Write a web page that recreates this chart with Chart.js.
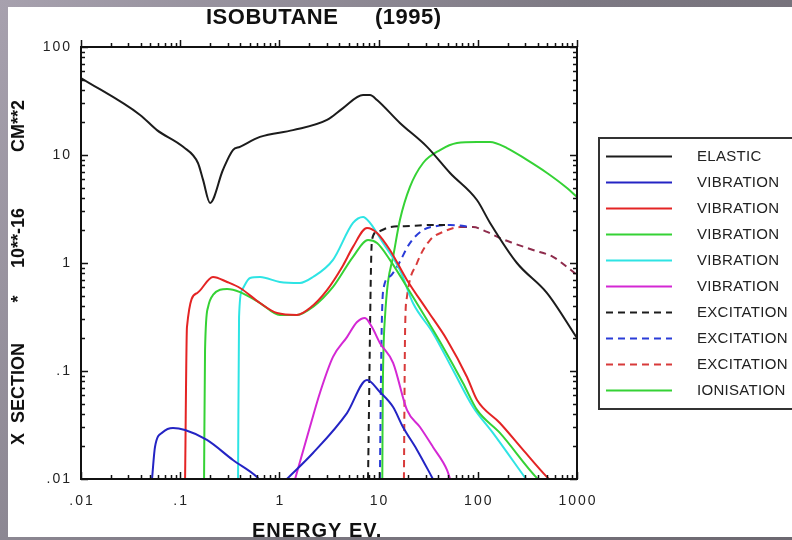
<!DOCTYPE html>
<html>
<head>
<meta charset="utf-8">
<title>Isobutane cross sections</title>
<script src="https://cdn.jsdelivr.net/npm/chart.js@4.4.1/dist/chart.umd.min.js"></script>
<style>
  html, body { margin: 0; padding: 0; background: #78747d; }
  canvas { display: block; }
</style>
</head>
<body>
<canvas id="isoChart" width="792" height="540"></canvas>
<script>
// axis decades and their printed labels
const xDecades = [0.01, 0.1, 1, 10, 100, 1000];
const xTickLabels = ['.01', '.1', '1', '10', '100', '1000'];
const yDecades = [0.01, 0.1, 1, 10, 100];
const yTickLabels = ['.01', '.1', '1', '10', '100'];

// energy (eV) / cross section (10**-16 cm**2) per process
const elasticE = [0.01, 0.0394, 0.0583, 0.107, 0.151, 0.170, 0.200, 0.270, 0.340, 0.400, 0.637, 1.37, 3.02, 4.38, 6.97, 8.19, 9.64, 16.4, 30.8, 52.5, 98, 133, 248, 499, 1000];
const elasticS = [51.6, 23.5, 17.0, 11.9, 8.43, 5.88, 3.6, 7.3, 11.1, 11.9, 14.7, 17.0, 21.1, 27.2, 35.9, 35.9, 32.3, 19.8, 11.9, 6.81, 3.83, 2.35, 1.0, 0.527, 0.202];

const vib1E = [0.052, 0.0557, 0.0671, 0.0846, 0.112, 0.186, 0.340, 0.594, 0.62, 0.9, 1.19, 2.18, 4.80, 7.64, 10.3, 14.0, 17.6, 24.4, 34.5, 35.3];
const vib1S = [0.01, 0.0198, 0.0272, 0.0297, 0.0284, 0.0230, 0.0150, 0.01045, 0.01, null, 0.01, 0.0174, 0.0408, 0.0826, 0.064, 0.0464, 0.0303, 0.0186, 0.0104, 0.01];

const vib2E = [0.112, 0.117, 0.148, 0.214, 0.297, 0.401, 0.638, 0.946, 1.50, 2.03, 3.02, 4.38, 5.52, 7.64, 9.64, 13.0, 19.3, 30.8, 49.0, 77.8, 98.2, 167, 286, 499, 522];
const vib2S = [0.01, 0.255, 0.527, 0.742, 0.667, 0.587, 0.426, 0.344, 0.330, 0.383, 0.562, 0.95, 1.41, 2.11, 1.90, 1.32, 0.697, 0.367, 0.194, 0.088, 0.0538, 0.033, 0.0186, 0.0104, 0.01];

const vib3E = [0.174, 0.178, 0.191, 0.214, 0.297, 0.401, 0.638, 1.01, 1.50, 2.18, 3.47, 5.52, 7.82, 9.64, 13.0, 19.3, 30.8, 44.6, 70.9, 98.2, 167, 395, 405];
const vib3S = [0.01, 0.156, 0.392, 0.506, 0.574, 0.538, 0.426, 0.330, 0.330, 0.392, 0.600, 1.14, 1.63, 1.53, 1.07, 0.60, 0.296, 0.167, 0.0774, 0.0436, 0.0267, 0.0102, 0.01];

const vib4E = [0.383, 0.392, 0.420, 0.506, 0.638, 1.01, 1.61, 2.18, 3.47, 5.52, 6.97, 8.19, 11.1, 16.4, 22.2, 35.3, 56.2, 89.5, 142, 306];
const vib4S = [0.01, 0.316, 0.562, 0.727, 0.742, 0.667, 0.653, 0.742, 1.07, 2.35, 2.67, 2.35, 1.53, 0.861, 0.426, 0.225, 0.102, 0.0464, 0.0267, 0.01];

const vib5E = [1.44, 1.61, 2.03, 2.56, 3.47, 4.80, 6.06, 7.29, 8.57, 10.3, 14.0, 19.3, 26.1, 35.3, 49.0, 52.5];
const vib5S = [0.01, 0.0144, 0.0303, 0.0626, 0.135, 0.206, 0.284, 0.310, 0.255, 0.182, 0.119, 0.0436, 0.0303, 0.0198, 0.0121, 0.01];

const exc1E = [7.82, 8.57, 9.64, 13.0, 20.7, 35.3, 46.7];
const exc1S = [0.01, 1.63, 1.94, 2.15, 2.20, 2.25, 2.25];

const exc2E = [10.3, 10.7, 11.1, 13.0, 15.3, 20.7, 28.1, 38.8, 52.5, 66.2, 80];
const exc2S = [0.01, 0.2, 0.55, 0.75, 0.918, 1.53, 2.02, 2.20, 2.25, 2.22, 2.17];

const exc3E = [18.0, 18.5, 19.3, 24.4, 33.0, 44.6, 66.2, 89.5, 124, 167, 226, 360, 573, 793, 1000];
const exc3S = [0.01, 0.24, 0.484, 1.0, 1.63, 1.94, 2.15, 2.15, 1.94, 1.70, 1.53, 1.32, 1.14, 0.918, 0.774];

const ionE = [10.9, 11.0, 11.2, 11.6, 12.4, 14.0, 16.4, 20.7, 28.1, 41.6, 61.7, 98.2, 133, 197, 313, 499, 793, 1000];
const ionS = [0.01, 0.0538, 0.156, 0.316, 0.653, 1.14, 2.50, 5.06, 8.43, 11.1, 12.9, 13.2, 13.2, 11.6, 9.0, 6.81, 4.94, 4.08];

const FONT = "'Liberation Sans', Arial, sans-serif";

function series(es, ss) {
    return es.map((e, i) => ({ x: e, y: ss[i] }));
}

function curve(label, color, es, ss, dash) {
    return {
        label: label,
        data: series(es, ss),
        borderColor: color,
        borderWidth: 2,
        borderDash: dash || [],
        pointRadius: 0,
        cubicInterpolationMode: 'monotone',
        fill: false,
        spanGaps: false
    };
}

const GREEN = '#35d235';
const datasets = [
    curve('ELASTIC', '#1c1c1c', elasticE, elasticS),
    curve('VIBRATION', '#2424c4', vib1E, vib1S),
    curve('VIBRATION', '#e42424', vib2E, vib2S),
    curve('VIBRATION', GREEN, vib3E, vib3S),
    curve('VIBRATION', '#2ee4e4', vib4E, vib4S),
    curve('VIBRATION', '#d428d4', vib5E, vib5S),
    curve('EXCITATION', '#1c1c1c', exc1E, exc1S, [7, 5]),
    curve('EXCITATION', '#2a3cd8', exc2E, exc2S, [7, 5]),
    curve('EXCITATION', '#d83a3a', exc3E, exc3S, [7, 5]),
    curve('IONISATION', GREEN, ionE, ionS)
];
// the red excitation tail runs on top of the blue one, so it prints darker
datasets[8].segment = {
    borderColor: ctx => ctx.p0.parsed.x >= 60 ? '#8e2c4c' : undefined
};

// frame, inward ticks, labels, titles and the boxed key
const framePlugin = {
    id: 'framePlugin',
    beforeDraw(chart) {
        const c = chart.ctx;
        c.save();
        const g = c.createLinearGradient(0, 0, 792, 540);
        g.addColorStop(0, '#a7a1ae');
        g.addColorStop(0.5, '#7d7983');
        g.addColorStop(1, '#6c6870');
        c.fillStyle = g;
        c.fillRect(0, 0, 792, 540);
        c.fillStyle = '#ffffff';
        c.fillRect(8, 7, 784, 530);
        c.restore();
    },
    afterDatasetsDraw(chart) {
        const c = chart.ctx;
        const a = chart.chartArea;
        const xs = chart.scales.x, ys = chart.scales.y;
        c.save();
        c.strokeStyle = '#111';
        c.lineWidth = 2;
        c.setLineDash([]);
        c.strokeRect(a.left, a.top, a.right - a.left, a.bottom - a.top);

        c.lineWidth = 1.5;
        c.beginPath();
        xDecades.forEach((d, i) => {
            for (let m = 1; m <= 9; m++) {
                if (m > 1 && i === xDecades.length - 1) break;
                const px = Math.round(xs.getPixelForValue(d * m)) + 0.5;
                const len = m === 1 ? 7 : 4;
                c.moveTo(px, a.bottom); c.lineTo(px, a.bottom - len);
                c.moveTo(px, a.top); c.lineTo(px, a.top - len);
            }
        });
        yDecades.forEach((d, i) => {
            for (let m = 1; m <= 9; m++) {
                if (m > 1 && i === yDecades.length - 1) break;
                const py = Math.round(ys.getPixelForValue(d * m)) + 0.5;
                const len = m === 1 ? 7 : 4;
                c.moveTo(a.left, py); c.lineTo(a.left + len, py);
                c.moveTo(a.right, py); c.lineTo(a.right - len, py);
            }
        });
        c.stroke();

        // tick labels
        c.fillStyle = '#222';
        c.font = '14px ' + FONT;
        c.letterSpacing = '2px';
        c.textBaseline = 'middle';
        c.textAlign = 'center';
        xDecades.forEach((d, i) => {
            c.fillText(xTickLabels[i], xs.getPixelForValue(d) + 1, a.bottom + 22);
        });
        c.textAlign = 'right';
        yDecades.forEach((d, i) => {
            c.fillText(yTickLabels[i], a.left - 9, ys.getPixelForValue(d));
        });

        // titles
        c.fillStyle = '#111';
        c.textAlign = 'left';
        c.textBaseline = 'alphabetic';
        c.font = 'bold 22px ' + FONT;
        c.letterSpacing = '0.5px';
        c.fillText('ISOBUTANE', 206, 24);
        c.fillText('(1995)', 375, 24);

        c.font = 'bold 20px ' + FONT;
        c.letterSpacing = '1px';
        c.fillText('ENERGY EV.', 252, 537);

        c.font = 'bold 18px ' + FONT;
        c.letterSpacing = '0px';
        c.textAlign = 'center';
        c.textBaseline = 'middle';
        [['X  SECTION', 394], ['*', 299], ['10**-16', 238], ['CM**2', 126]].forEach(([t, y]) => {
            c.save();
            c.translate(19, y);
            c.rotate(-Math.PI / 2);
            c.fillText(t, 0, 0);
            c.restore();
        });

        // key
        c.lineWidth = 2;
        c.strokeStyle = '#333';
        c.strokeRect(599, 138, 210, 271);
        c.font = '15px ' + FONT;
        c.letterSpacing = '0.3px';
        c.textAlign = 'left';
        c.fillStyle = '#222';
        chart.data.datasets.forEach((ds, i) => {
            const y = 156 + i * 26;
            c.strokeStyle = ds.borderColor;
            c.setLineDash(ds.borderDash);
            c.beginPath();
            c.moveTo(606, y + 0.5);
            c.lineTo(672, y + 0.5);
            c.stroke();
            c.fillText(ds.label, 697, y + 1);
        });
        c.restore();
    }
};

new Chart(document.getElementById('isoChart'), {
    type: 'line',
    data: { datasets: datasets },
    options: {
        responsive: false,
        animation: false,
        layout: { padding: { left: 81, top: 47, right: 215, bottom: 61 } },
        scales: {
            x: { type: 'logarithmic', min: 0.01, max: 1000, display: false },
            y: { type: 'logarithmic', min: 0.01, max: 100, display: false }
        },
        plugins: {
            legend: { display: false },
            tooltip: { enabled: false }
        }
    },
    plugins: [framePlugin]
});
</script>
</body>
</html>
